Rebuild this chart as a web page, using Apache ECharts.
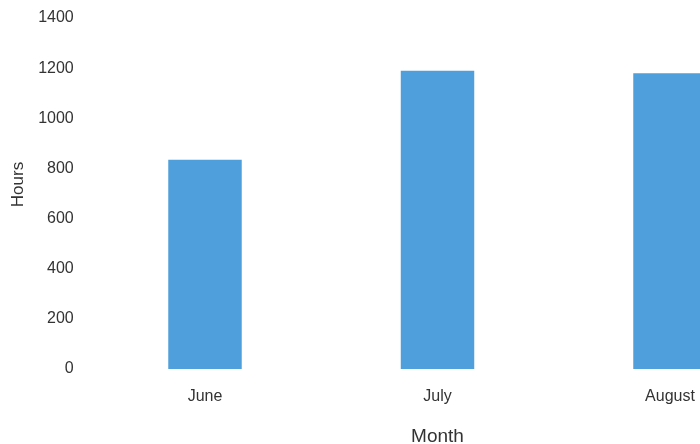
<!DOCTYPE html>
<html>
<head>
<meta charset="utf-8">
<script src="https://cdn.jsdelivr.net/npm/echarts@6/dist/echarts.min.js"></script>
<style>
html,body{margin:0;padding:0;background:#fff;}
#chart{width:700px;height:444px;}
</style>
</head>
<body>
<div id="chart"></div>
<script>
var categories = ['June', 'July', 'August'];
var hours = [835, 1190, 1180];
var yTicks = [0, 200, 400, 600, 800, 1000, 1200, 1400];

var chart = echarts.init(document.getElementById('chart'));
var font = 'Liberation Sans';
chart.setOption({
  animation: false,
  grid: { left: 88.75, top: 18, width: 697.5, height: 351, containLabel: false, outerBoundsMode: 'none' },
  xAxis: {
    type: 'category',
    data: categories,
    name: 'Month',
    nameLocation: 'middle',
    nameGap: 0,
    nameTextStyle: { fontFamily: font, fontSize: 19, color: '#333', padding: [58, 0, 0, 0] },
    axisLine: { show: false },
    axisTick: { show: false },
    axisLabel: { fontFamily: font, fontSize: 16, color: '#333', margin: 20 }
  },
  yAxis: {
    type: 'value',
    min: yTicks[0],
    max: yTicks[yTicks.length - 1],
    interval: 200,
    name: 'Hours',
    nameLocation: 'middle',
    nameGap: 60,
    nameTextStyle: { fontFamily: font, fontSize: 17, color: '#333', padding: [0, 0, 0, 18] },
    axisLine: { show: false },
    axisTick: { show: false },
    splitLine: { show: false },
    axisLabel: { fontFamily: font, fontSize: 16, color: '#333', margin: 15, formatter: function (v) { return String(v); } }
  },
  series: [{
    type: 'bar',
    data: hours,
    barWidth: '31.6%',
    itemStyle: { color: '#4f9fdc' }
  }]
});
</script>
</body>
</html>
